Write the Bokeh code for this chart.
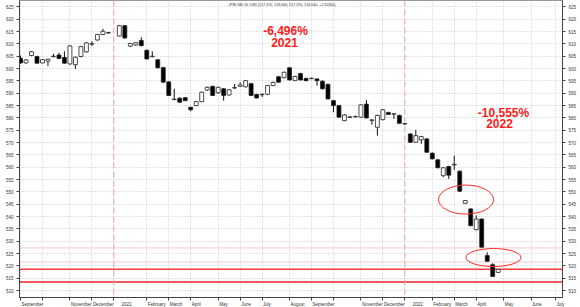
import pandas as pd
from bokeh.plotting import figure
from bokeh.models import Span, Label, FixedTicker, LinearAxis, Range1d, ColumnDataSource
from bokeh.embed import file_html
from bokeh.resources import INLINE

TITLE = "JPM GBI GL USD (517.370, 518.640, 517.370, 518.640, +2.92300)"

# weekly bars (week ending Friday); the week ending 1 Jan 2021 has no bar
weeks_2020 = pd.date_range("2020-09-04", "2020-12-25", freq="W-FRI")
weeks_2021 = pd.date_range("2021-01-08", "2021-12-31", freq="W-FRI")
weeks_2022 = pd.date_range("2022-01-07", "2022-05-06", freq="W-FRI")

open_2020 = [604.2, 602.3, 605.3, 604.9, 602.3, 603.0, 604.8, 605.5, 604.5, 601.9, 601.6, 604.9, 606.8, 609.9, 611.6, 613.8, 614.4]
high_2020 = [605.3, 603.8, 607.0, 605.2, 603.9, 604.0, 606.0, 606.4, 607.0, 609.5, 604.9, 609.2, 610.7, 611.1, 614.1, 616.1, 614.8]
low_2020 = [602.0, 602.0, 605.0, 602.0, 602.1, 601.0, 604.6, 603.9, 602.0, 601.6, 599.9, 604.6, 606.5, 609.2, 611.3, 613.6, 614.2]
close_2020 = [602.3, 603.5, 606.8, 602.2, 603.6, 603.8, 605.0, 604.1, 602.2, 609.2, 604.6, 608.9, 610.4, 610.1, 613.8, 615.1, 614.6]

open_2021 = [613.2, 617.4, 609.1, 609.6, 611.4, 607.4, 604.8, 603.6, 600.4, 594.6,
             587.4, 588.0, 588.2, 584.3, 585.0, 586.6, 591.3, 592.8, 590.2, 591.8,
             589.3, 592.1, 592.8, 592.6, 593.9, 589.5, 589.4, 589.6, 593.1, 596.7,
             596.3, 600.3, 595.1, 598.0, 596.0, 595.9, 595.8, 594.9, 593.6, 587.0,
             585.0, 578.9, 580.2, 580.4, 580.3, 585.6, 579.0, 576.2, 579.3, 582.2,
             581.5, 581.0]
high_2021 = [617.7, 617.7, 610.4, 610.7, 612.7, 607.7, 607.0, 603.9, 600.7, 594.9,
             591.8, 588.3, 588.5, 584.5, 586.9, 590.7, 592.7, 593.1, 592.7, 592.1,
             591.7, 593.8, 594.5, 595.4, 594.2, 589.8, 589.8, 593.4, 594.7, 597.0,
             598.8, 600.6, 597.1, 598.3, 596.3, 596.3, 596.0, 595.2, 593.9, 587.3,
             585.3, 581.5, 580.7, 580.9, 585.6, 587.3, 579.4, 581.3, 583.6, 582.5,
             581.9, 581.3]
low_2021 = [613.0, 612.2, 608.7, 609.2, 609.1, 603.7, 604.6, 600.1, 594.3, 588.9,
            587.2, 586.2, 586.8, 582.7, 584.8, 586.4, 590.9, 588.9, 589.8, 587.0,
            589.1, 591.8, 592.6, 592.4, 588.9, 587.9, 588.5, 589.3, 592.9, 594.3,
            596.0, 595.2, 594.9, 595.2, 594.9, 595.7, 593.1, 591.6, 587.5, 582.3,
            580.1, 578.7, 580.0, 580.2, 580.1, 579.8, 577.3, 572.8, 579.0, 581.2,
            579.6, 577.6]
close_2021 = [617.4, 612.4, 610.2, 610.5, 609.3, 603.9, 605.0, 600.3, 594.5, 589.1,
              587.6, 586.4, 587.0, 583.3, 586.6, 590.4, 592.4, 589.1, 592.4, 589.1,
              591.4, 592.3, 593.4, 595.1, 589.1, 588.1, 589.6, 593.1, 594.4, 594.5,
              598.5, 595.4, 596.8, 595.4, 595.1, 596.1, 595.1, 591.8, 587.7, 585.0,
              580.3, 581.2, 580.4, 580.6, 585.3, 580.0, 579.2, 581.0, 583.3, 581.4,
              581.7, 577.8]

open_2022 = [577.5, 573.5, 570.1, 571.1, 571.5, 565.7, 563.0, 556.6, 560.3, 560.9, 558.4, 545.4, 543.1, 534.7, 539.0, 524.2, 520.5, 517.37]
high_2022 = [577.9, 573.8, 575.2, 572.7, 571.8, 566.0, 563.3, 560.1, 560.6, 564.7, 558.7, 546.7, 543.4, 540.5, 539.3, 525.5, 521.1, 518.64]
low_2022 = [577.3, 569.9, 569.9, 569.5, 565.9, 563.2, 559.6, 556.0, 555.3, 558.9, 550.0, 545.2, 536.1, 534.5, 527.4, 521.7, 515.5, 517.37]
close_2022 = [577.7, 570.1, 572.8, 572.4, 566.1, 563.4, 559.8, 559.8, 556.8, 561.2, 550.3, 546.5, 536.3, 539.0, 527.6, 521.9, 515.72, 518.64]

# x-axis month ticks (as drawn on the reference) and their labels
tick_dates = ["2020-09-04", "2020-10-02", "2020-11-06", "2020-12-04", "2021-01-01",
              "2021-02-12", "2021-03-12", "2021-04-09", "2021-05-14", "2021-06-11",
              "2021-07-09", "2021-08-13", "2021-09-10", "2021-10-08", "2021-11-12",
              "2021-12-10", "2022-01-07", "2022-02-11", "2022-03-11", "2022-04-08",
              "2022-05-13", "2022-06-17", "2022-07-18"]
tick_labels = ["September", "", "November", "December", "2021",
               "February", "March", "April", "May", "June",
               "July", "August", "September", "", "November",
               "December", "2022", "February", "March", "April",
               "May", "June", "July"]

price_ticks = list(range(510, 630, 5))
year_marks = ["2021-01-01", "2022-01-07"]
levels_solid = [518.64, 513.5]
levels_dotted = [527.3, 521.6]
highlight_dates = ["2022-03-26", "2022-04-30"]
highlight_prices = [546.9, 523.4]

DAY = 86400000.0

def ms(d):
    return pd.Timestamp(d).value / 1e6

dates = list(weeks_2020) + list(weeks_2021) + list(weeks_2022)
opens = open_2020 + open_2021 + open_2022
highs = high_2020 + high_2021 + high_2022
lows = low_2020 + low_2021 + low_2022
closes = close_2020 + close_2021 + close_2022

src = ColumnDataSource(dict(
    date=dates, high=highs, low=lows,
    top=[max(o, c) for o, c in zip(opens, closes)],
    bottom=[min(o, c) for o, c in zip(opens, closes)],
    fill=["white" if c >= o else "black" for o, c in zip(opens, closes)],
))

FONT = "Liberation Sans"
FRAME_W, FRAME_H = 543, 297
x0 = ms("2020-09-02 17:00")
x1 = x0 + 692.3 * DAY
px_per_ms = FRAME_W / (x1 - x0)

p = figure(frame_width=FRAME_W, frame_height=FRAME_H, x_axis_type="datetime",
           x_range=Range1d(x0, x1), y_range=Range1d(507.2, 627.6),
           output_backend="svg", toolbar_location=None, title_location=None,
           min_border_left=19, min_border_right=18, min_border_top=0, min_border_bottom=10,
           background_fill_color="white", border_fill_color="white")
p.outline_line_color = "#999999"

# grids at the month ticks and every 5 points
p.xgrid.ticker = FixedTicker(ticks=[ms(d) for d in tick_dates])
p.ygrid.ticker = FixedTicker(ticks=price_ticks)
for g in (p.xgrid, p.ygrid):
    g.grid_line_color = "#c8c8c8"
    g.grid_line_dash = "1 2"
    g.grid_line_width = 1

# x axis: month tick marks as minor ticks; labels centred just right of them
LABEL_PX = 4.5
CW = {'S': 667, 'e': 556, 'p': 556, 't': 278, 'm': 833, 'b': 556, 'r': 333, 'N': 722,
      'o': 556, 'v': 500, 'D': 722, 'c': 500, 'F': 611, 'u': 556, 'a': 556, 'y': 500,
      'M': 833, 'h': 556, 'A': 667, 'i': 222, 'l': 222, 'J': 500, 'n': 556, 'g': 556,
      's': 500}
def text_px(t):
    return sum(CW.get(ch, 556) for ch in t) / 1000.0 * LABEL_PX

label_ticks, overrides = [], {}
for d, t in zip(tick_dates, tick_labels):
    if not t:
        continue
    gap = 8 if t.isdigit() else 1
    pos = int(round(ms(d) + (gap + text_px(t) / 2) / px_per_ms))
    label_ticks.append(pos)
    overrides[pos] = t

ax = p.xaxis[0]
ax.ticker = FixedTicker(ticks=label_ticks, minor_ticks=[ms(d) for d in tick_dates])
ax.major_label_overrides = overrides
ax.major_tick_line_color = None
ax.major_tick_out = 0
ax.major_tick_in = 0
ax.minor_tick_out = 3
ax.minor_tick_in = 0
ax.minor_tick_line_color = "#444444"
ax.axis_line_color = "#444444"
ax.major_label_standoff = 1
ax.major_label_text_font = FONT
ax.major_label_text_font_size = "4.5px"
ax.major_label_text_color = "#333333"

# y axes left and right
right = LinearAxis()
p.add_layout(right, "right")
for yax in (p.yaxis[0], right):
    yax.ticker = FixedTicker(ticks=price_ticks)
    yax.major_label_text_font_size = "4.5px"
    yax.major_label_text_font = FONT
    yax.major_label_text_color = "#333333"
    yax.major_tick_out = 3
    yax.major_tick_in = 0
    yax.minor_tick_line_color = None
    yax.major_label_standoff = 3
    yax.axis_line_color = "#444444"
    yax.major_tick_line_color = "#444444"

# reference lines
for lv in levels_dotted:
    p.add_layout(Span(location=lv, dimension="width", line_color="#f29a9a",
                      line_width=1, line_dash="1 1", level="underlay"))
p.add_layout(Span(location=levels_solid[0], dimension="width", line_color="#ff3b3b",
                  line_width=1.5, level="underlay"))
p.add_layout(Span(location=levels_solid[1], dimension="width", line_color="#e4262c",
                  line_width=1.5, level="underlay"))
for d in year_marks:
    p.add_layout(Span(location=ms(d), dimension="height", line_color="#f4a3a3",
                      line_width=1, line_dash="6 3", level="underlay"))

# candles
p.segment(x0="date", y0="high", x1="date", y1="low", source=src, line_color="#111111", line_width=1)
p.vbar(x="date", width=5 * DAY, top="top", bottom="bottom", source=src,
       fill_color="fill", line_color="#222222", line_width=0.8)

# highlight ellipses
p.ellipse(x=[pd.Timestamp(d) for d in highlight_dates], y=highlight_prices,
          width=55, height=[29, 18], width_units="screen", height_units="screen",
          fill_color=None, line_color="#ff2a2a", line_width=1)

# title
p.add_layout(Label(x=209, y=293, x_units="screen", y_units="screen", text=TITLE,
                   text_font=FONT, text_font_size="3.6px", text_color="#333333",
                   text_baseline="middle", text_align="left"))

# performance annotations
for txt, x, y in [("-6,496%", 266, 267), ("2021", 265, 255.3),
                  ("-10,555%", 484, 184.5), ("2022", 480, 174.3)]:
    p.add_layout(Label(x=x, y=y, x_units="screen", y_units="screen", text=txt,
                       text_font=FONT, text_font_size="12px", text_font_style="bold",
                       text_color="#ff1a1a", text_align="center", text_baseline="middle"))

open("out.html", "w").write(file_html(p, INLINE))
